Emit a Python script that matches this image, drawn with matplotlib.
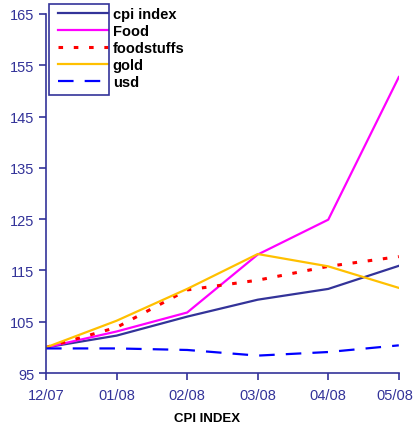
import matplotlib.pyplot as plt
from matplotlib.patches import Rectangle
from matplotlib.transforms import ScaledTranslation

plt.rcParams['font.family'] = ['Liberation Sans', 'DejaVu Sans']

months = ['12/07', '01/08', '02/08', '03/08', '04/08', '05/08']
cpi_index = [100, 102.3, 106.0, 109.3, 111.4, 115.9]
food = [100, 103.1, 106.8, 118.1, 124.9, 152.7]
foodstuffs = [100, 103.9, 111.2, 113.1, 115.8, 117.7]
gold = [100, 105.2, 111.4, 118.2, 115.8, 111.6]
usd = [99.8, 99.8, 99.5, 98.4, 99.1, 100.4]

navy = '#333399'

fig = plt.figure(figsize=(4.15, 4.27), dpi=100)
ax = fig.add_axes([0.111, 0.124, 0.850, 0.841])

x = range(len(months))
ax.plot(x, cpi_index, color=navy, lw=1.6, label='cpi index')
ax.plot(x, food, color='#FF00FF', lw=1.6, label='Food')
ax.plot(x, foodstuffs, color='#FF0000', lw=2.2, ls=(0, (1.5, 3.5)), label='foodstuffs')
ax.plot(x, gold, color='#FFC000', lw=1.6, label='gold')
ax.plot(x, usd, color='#0000FF', lw=1.6, ls=(0, (7, 5)), label='usd')

ax.set_xlim(0, 5)
ax.set_ylim(95, 165)
ax.set_xticks(list(x))
ax.set_xticklabels(months)
ax.set_yticks(range(95, 166, 10))

for s in ['top', 'right']:
    ax.spines[s].set_visible(False)
for s in ['left', 'bottom']:
    ax.spines[s].set_color(navy)
    ax.spines[s].set_linewidth(1.2)
ax.tick_params(colors=navy, labelsize=10.5, length=5, width=1.2, direction='out')
ax.tick_params(axis='x', pad=6)

# last month label sits against the right edge; nudge it so it stays whole
last = ax.get_xticklabels()[-1]
last.set_transform(last.get_transform() + ScaledTranslation(-0.04, 0, fig.dpi_scale_trans))

fig.text(0.5, 1 - 419 / 427, 'CPI INDEX', fontsize=9.5, fontweight='bold',
         ha='center', va='center')

leg = ax.legend(loc='upper left', bbox_to_anchor=(0.034, 1.018), frameon=False,
                handlelength=3.4, handletextpad=0.35, labelspacing=0.2,
                borderaxespad=0, borderpad=0,
                prop={'weight': 'bold', 'size': 10.5})
for t in leg.get_texts():
    t.set_color('black')

# narrow legend box around the line samples only, as in the original
fig.patches.append(Rectangle((49 / 415, 1 - 96 / 427), 60 / 415, 91 / 427,
                             transform=fig.transFigure, fill=False,
                             edgecolor=navy, lw=1.2))

fig.savefig('out.png', dpi=100)
